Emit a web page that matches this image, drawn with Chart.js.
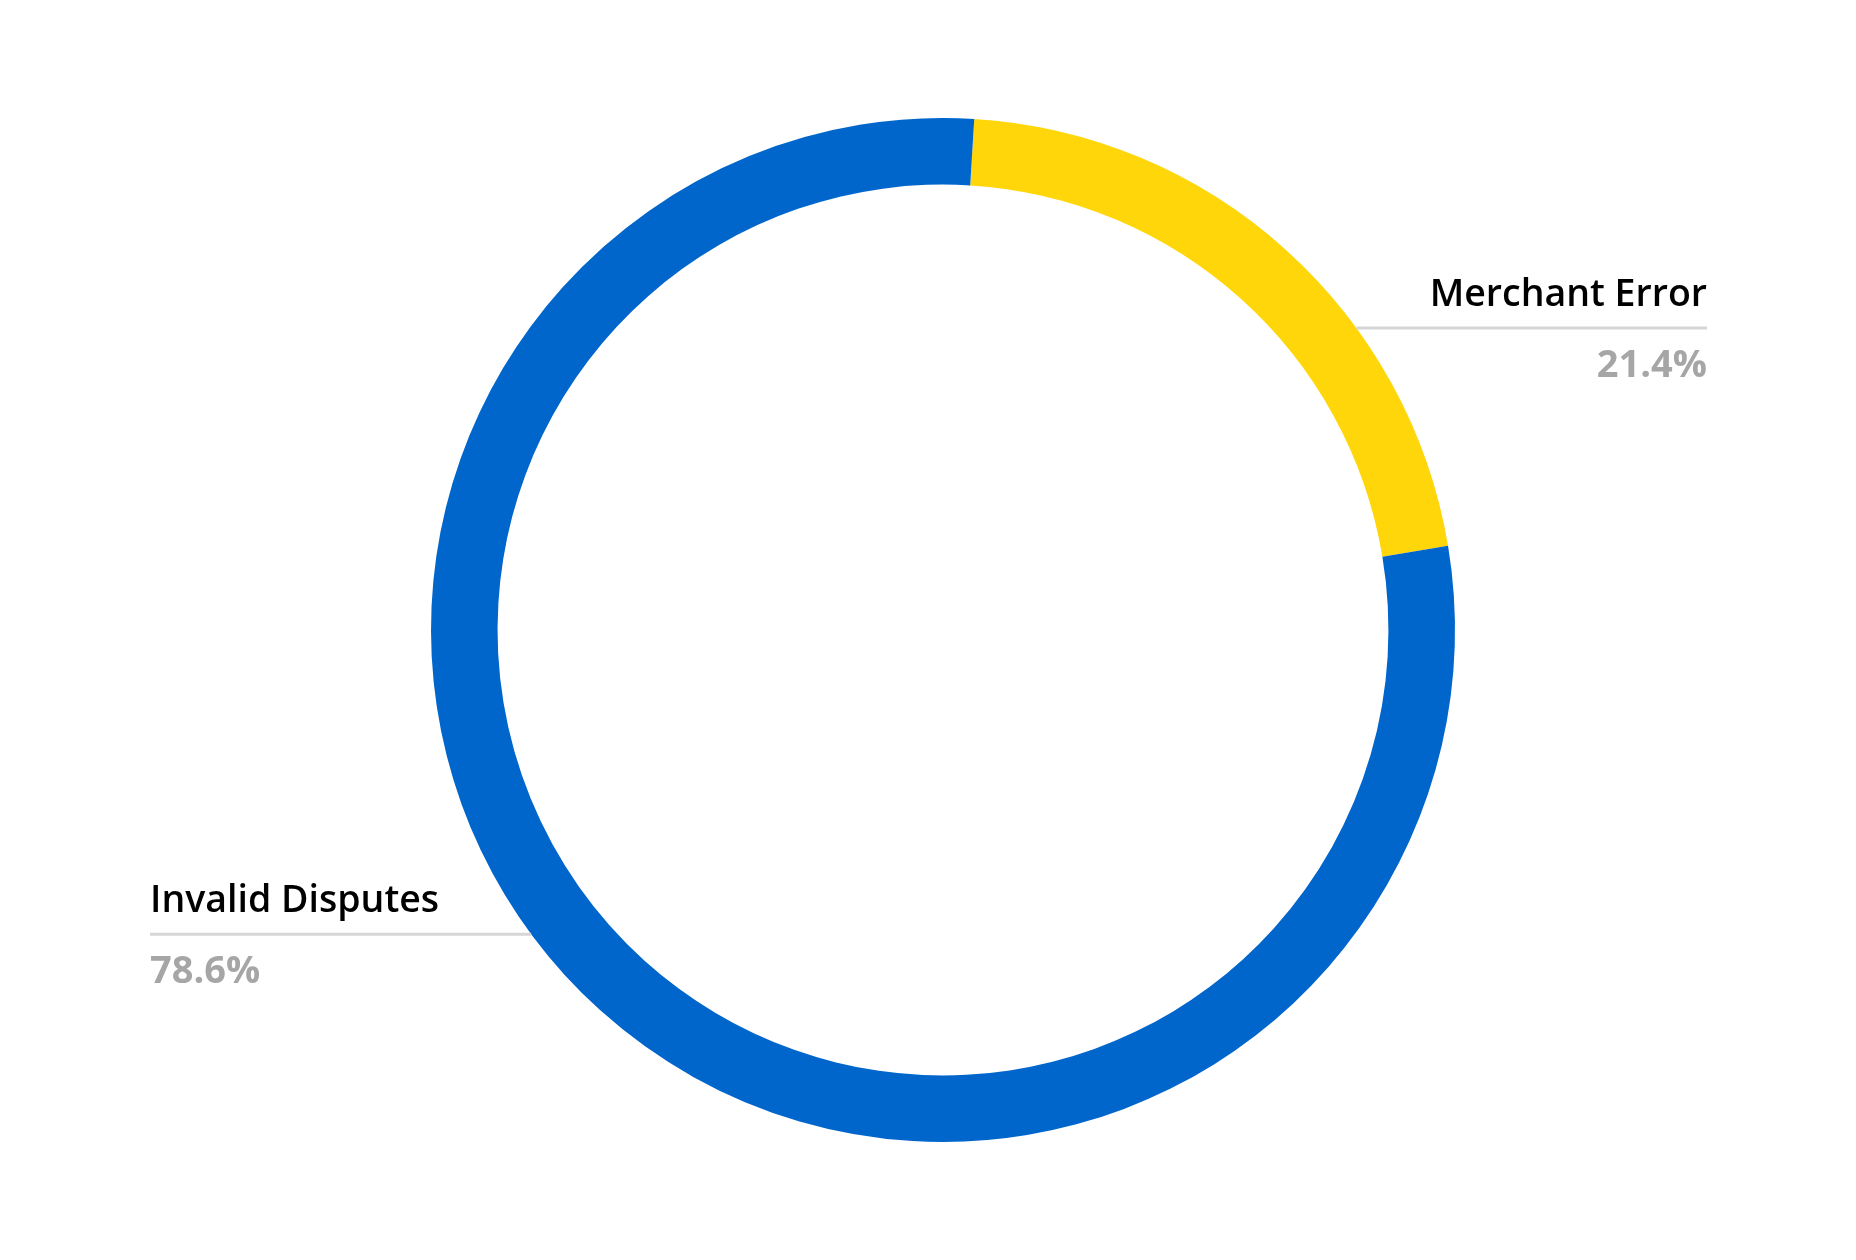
<!DOCTYPE html>
<html>
<head>
<meta charset="utf-8">
<script src="https://cdn.jsdelivr.net/npm/chart.js@4.4.1/dist/chart.umd.min.js"></script>
<style>
  html, body { margin: 0; padding: 0; background: #fff; }
  #wrap { width: 1856px; height: 1260px; }
</style>
</head>
<body>
<div id="wrap"><canvas id="myChart"></canvas></div>
<script>
// data
const categories = ['Merchant Error', 'Invalid Disputes']
const shares = [21.4, 78.6]
const colors = ['#FFD60A', '#0066CC']

// where each label sits: side of the chart and vertical offset as a fraction of the radius
const labelSides = ['right', 'left']
const labelOffsets = [-0.59, 0.594]

// draws the name, rule and percentage for every slice
const sideLabels = {
  id: 'sideLabels',
  afterDraw(chart) {
    const ctx = chart.ctx
    const arc = chart.getDatasetMeta(0).data[0]
    const cx = arc.x
    const cy = arc.y
    const r = arc.outerRadius
    const font = '"Open Sans", "Noto Sans", sans-serif'
    ctx.save()
    categories.forEach((name, i) => {
      const dy = labelOffsets[i] * r
      const y = cy + dy
      const reach = Math.sqrt(r * r - dy * dy)
      const right = labelSides[i] === 'right'
      const edge = right ? 1707 : 150
      const start = right ? cx + reach : cx - reach

      // rule
      ctx.strokeStyle = '#D6D6D6'
      ctx.lineWidth = 3
      ctx.beginPath()
      ctx.moveTo(start, y)
      ctx.lineTo(edge, y)
      ctx.stroke()

      // name
      ctx.textAlign = right ? 'right' : 'left'
      ctx.textBaseline = 'alphabetic'
      ctx.fillStyle = '#000000'
      ctx.font = '600 37.5px ' + font
      ctx.fillText(name, edge, y - 22)

      // percentage
      ctx.fillStyle = '#A6A6A6'
      ctx.font = 'bold 38px ' + font
      ctx.fillText(shares[i].toFixed(1) + '%', edge, y + 49)
    })
    ctx.restore()
  }
}

const ctx = document.getElementById('myChart')
new Chart(ctx, {
  type: 'doughnut',
  data: {
    labels: categories,
    datasets: [{
      data: shares,
      backgroundColor: colors,
      borderWidth: 0,
      hoverOffset: 0
    }]
  },
  options: {
    responsive: true,
    maintainAspectRatio: false,
    animation: false,
    cutout: '87%',
    rotation: 3.5,
    layout: { padding: { top: 118, bottom: 118, left: 30, right: 0 } },
    plugins: {
      legend: { display: false },
      tooltip: { enabled: false }
    }
  },
  plugins: [sideLabels]
})
</script>
</body>
</html>
